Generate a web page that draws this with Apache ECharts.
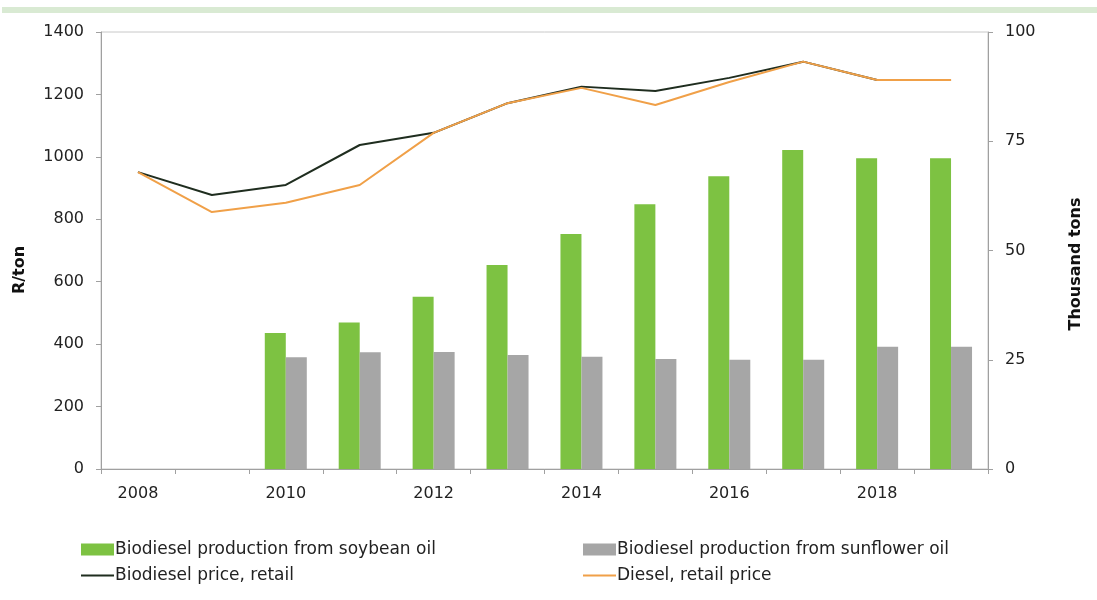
<!DOCTYPE html>
<html>
<head>
<meta charset="utf-8">
<script src="https://cdn.jsdelivr.net/npm/echarts@6/dist/echarts.min.js"></script>
<style>
  html, body { margin: 0; padding: 0; background: #fff; }
  #chart { width: 1097px; height: 600px; }
</style>
</head>
<body>
<div id="chart"></div>
<script>
  var years = ['2008', '2009', '2010', '2011', '2012', '2013', '2014', '2015', '2016', '2017', '2018', '2019'];
  var soybean = [null, null, 31.1, 33.5, 39.4, 46.7, 53.8, 60.6, 67.0, 73.0, 71.1, 71.1];
  var sunflower = [null, null, 25.6, 26.7, 26.8, 26.1, 25.7, 25.2, 25.0, 25.0, 28.0, 28.0];
  var biodieselPrice = [951, 878, 910, 1038, 1077, 1172, 1225, 1211, 1253, 1305, 1246, 1246];
  var dieselPrice = [951, 823, 853, 910, 1077, 1172, 1221, 1166, 1240, 1305, 1246, 1246];

  var chart = echarts.init(document.getElementById('chart'));
  var font = 'DejaVu Sans, Liberation Sans, sans-serif';
  var axisGrey = '#a0a0a0';

  // one legend per item so the 2x2 layout can be placed exactly
  function legendItem(name, left, top, h) {
    return {
      data: [{ name: name, icon: 'rect' }],
      left: left,
      top: top,
      itemWidth: 33,
      itemHeight: h,
      itemGap: 0,
      selectedMode: false,
      textStyle: { fontFamily: font, fontSize: 17, color: '#222', padding: [0, 0, 0, -4] }
    };
  }

  function axisTitle(text, x, y) {
    return {
      type: 'text',
      x: x, y: y,
      rotation: Math.PI / 2,
      style: {
        text: text, fill: '#111', fontFamily: font, fontSize: 16, fontWeight: 'bold',
        align: 'center', verticalAlign: 'middle'
      }
    };
  }

  chart.setOption({
    animation: false,
    textStyle: { fontFamily: font },
    graphic: [{
      type: 'rect',
      shape: { x: 2, y: 7, width: 1095, height: 6 },
      style: { fill: '#d9ead3' }
    },
      axisTitle('R/ton', 20, 270),
      axisTitle('Thousand tons', 1076, 264)
    ],
    grid: {
      left: 101, right: 109, top: 32, bottom: 131,
      show: true, borderColor: '#c8c8c8', borderWidth: 1
    },
    legend: [
      legendItem('Biodiesel production from soybean oil', 76, 536, 12),
      legendItem('Biodiesel production from sunflower oil', 578, 536, 12),
      legendItem('Biodiesel price, retail', 76, 562, 2),
      legendItem('Diesel, retail price', 578, 562, 2)
    ],
    xAxis: {
      type: 'category',
      data: years,
      boundaryGap: true,
      axisLine: { lineStyle: { color: axisGrey } },
      axisTick: { show: true, interval: 0, length: 5, lineStyle: { color: axisGrey } },
      axisLabel: {
        interval: 1, color: '#222', fontSize: 16, margin: 17, fontFamily: font
      }
    },
    yAxis: [{
      type: 'value',
      min: 0, max: 1400, interval: 200,
      axisLine: { show: true, lineStyle: { color: axisGrey } },
      axisTick: { show: true, length: 5, lineStyle: { color: axisGrey } },
      axisLabel: {
        color: '#222', fontSize: 16, margin: 17, fontFamily: font,
        formatter: function (v) { return String(v); }
      },
      splitLine: { show: false }
    }, {
      type: 'value',
      min: 0, max: 100, interval: 25,
      axisLine: { show: true, lineStyle: { color: axisGrey } },
      axisTick: { show: true, length: 5, lineStyle: { color: axisGrey } },
      axisLabel: { color: '#222', fontSize: 16, margin: 17, fontFamily: font },
      splitLine: { show: false }
    }],
    series: [{
      name: 'Biodiesel production from soybean oil',
      type: 'bar',
      yAxisIndex: 1,
      data: soybean,
      barWidth: 21,
      barGap: '0%',
      itemStyle: { color: '#7dc242' }
    }, {
      name: 'Biodiesel production from sunflower oil',
      type: 'bar',
      yAxisIndex: 1,
      data: sunflower,
      barWidth: 21,
      barGap: '0%',
      itemStyle: { color: '#a6a6a6' }
    }, {
      name: 'Biodiesel price, retail',
      type: 'line',
      yAxisIndex: 0,
      data: biodieselPrice,
      symbol: 'none',
      lineStyle: { color: '#1f2d1f', width: 2 },
      itemStyle: { color: '#1f2d1f' }
    }, {
      name: 'Diesel, retail price',
      type: 'line',
      yAxisIndex: 0,
      data: dieselPrice,
      symbol: 'none',
      z: 3,
      lineStyle: { color: '#f0a048', width: 2 },
      itemStyle: { color: '#f0a048' }
    }]
  });
</script>
</body>
</html>
